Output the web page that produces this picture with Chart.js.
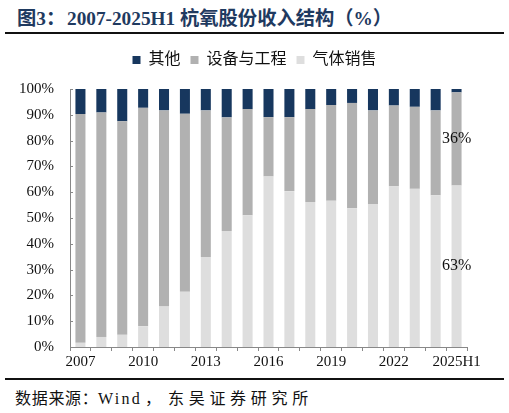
<!DOCTYPE html>
<html lang="zh">
<head>
  <meta charset="UTF-8">
  <title>杭氧股份收入结构</title>
  <script src="https://cdn.jsdelivr.net/npm/chart.js"></script>
  <style>
    body { margin: 0; width: 509px; height: 413px; background: #fff; position: relative; overflow: hidden; }
    .title { position: absolute; left: 17px; top: 3px; font: bold 19.3px "Liberation Serif", "Noto Sans CJK SC", serif; color: #1f3a60; white-space: nowrap; }
    .rule-top { position: absolute; left: 5px; width: 499px; top: 32px; height: 2px; background: #111; }
    .rule-bottom { position: absolute; left: 5px; width: 499px; top: 378px; height: 2px; background: #111; }
    .source { position: absolute; left: 15px; top: 385px; font: 16px "Liberation Serif", "Noto Sans CJK SC", serif; color: #111; white-space: nowrap; }
    .title span, .source span { display: inline-block; }
    .chart-box { position: absolute; left: 0; top: 42px; width: 509px; height: 331px; }
  </style>
</head>
<body>
  <div class="title"><span style="width:50px">图3：</span><span>2007-2025H1 杭氧股份收入结构（%）</span></div>
  <div class="rule-top"></div>
  <div class="chart-box"><canvas id="incomeChart"></canvas></div>
  <div class="rule-bottom"></div>
  <div class="source"><span style="width:83px; letter-spacing:0.7px">数据来源：</span><span style="width:47px; letter-spacing:2.3px">Wind</span><span style="width:23px">，</span><span style="letter-spacing:4.7px">东吴证券研究所</span></div>

  <script>
    // 年份
    const years = ['2007', '2008', '2009', '2010', '2011', '2012', '2013', '2014', '2015', '2016',
                   '2017', '2018', '2019', '2020', '2021', '2022', '2023', '2024', '2025H1'];
    // 各业务占比（%）
    const gasSales = [1.6, 3.9, 4.7, 8.0, 15.7, 21.4, 34.9, 45.0, 51.1, 66.1,
                      60.4, 56.2, 56.7, 53.8, 55.4, 62.3, 61.3, 58.8, 62.6];
    const equipment = [88.7, 87.0, 82.8, 84.7, 76.0, 69.0, 56.8, 44.0, 41.1, 23.0,
                       28.7, 36.0, 37.1, 40.8, 36.3, 31.3, 31.8, 32.9, 36.1];
    const others = [9.7, 9.1, 12.5, 7.3, 8.3, 9.6, 8.3, 11.0, 7.8, 10.9,
                    10.9, 7.8, 6.2, 5.4, 8.3, 6.4, 6.9, 8.3, 1.3];
    const yTicks = [0, 10, 20, 30, 40, 50, 60, 70, 80, 90, 100];

    const serif = '"Liberation Serif", "Noto Sans CJK SC", serif';

    // 最后一根柱子上的数值标注
    const lastBarLabels = {
      id: 'lastBarLabels',
      afterDatasetsDraw(chart) {
        const ctx = chart.ctx;
        const last = years.length - 1;
        ctx.save();
        ctx.font = '16px ' + serif;
        ctx.fillStyle = '#111';
        ctx.textAlign = 'center';
        ctx.textBaseline = 'middle';
        [0, 1].forEach(di => {
          const bar = chart.getDatasetMeta(di).data[last];
          const v = chart.data.datasets[di].data[last];
          ctx.fillText(Math.round(v) + '%', bar.x, (bar.y + bar.base) / 2);
        });
        ctx.restore();
      }
    };

    // y 轴内侧小刻度
    const innerTicks = {
      id: 'innerTicks',
      afterDatasetsDraw(chart) {
        const y = chart.scales.y;
        const ctx = chart.ctx;
        ctx.save();
        ctx.strokeStyle = '#888';
        ctx.lineWidth = 1;
        yTicks.forEach(t => {
          const py = Math.round(y.getPixelForValue(t)) + 0.5;
          ctx.beginPath();
          ctx.moveTo(y.right, py);
          ctx.lineTo(y.right + 3, py);
          ctx.stroke();
        });
        ctx.restore();
      }
    };

    // 图例下方留白
    const legendGap = {
      id: 'legendGap',
      beforeInit(chart) {
        const fit = chart.legend.fit;
        chart.legend.fit = function () {
          fit.bind(chart.legend)();
          this.height += 11;
        };
      }
    };

    new Chart(document.querySelector('#incomeChart'), {
      type: 'bar',
      data: {
        labels: years,
        datasets: [
          { label: '气体销售', data: gasSales, backgroundColor: '#dedede' },
          { label: '设备与工程', data: equipment, backgroundColor: '#b1b1b1' },
          { label: '其他', data: others, backgroundColor: '#17375e' }
        ]
      },
      options: {
        responsive: true,
        maintainAspectRatio: false,
        animation: false,
        layout: { padding: 0 },
        datasets: { bar: { categoryPercentage: 1, barPercentage: 0.48 } },
        plugins: {
          tooltip: { enabled: false },
          legend: {
            position: 'top',
            reverse: true,
            labels: {
              boxWidth: 8,
              boxHeight: 8,
              padding: 10,
              color: '#111',
              font: { size: 16, family: serif }
            }
          }
        },
        scales: {
          x: {
            stacked: true,
            grid: { drawOnChartArea: false, tickLength: 4, color: '#888', offset: true },
            border: { color: '#888' },
            ticks: {
              autoSkip: false,
              maxRotation: 0,
              color: '#111',
              font: { size: 15, family: serif },
              padding: 2,
              callback: (v, i) => (i % 3 === 0 ? years[i] : '')
            }
          },
          y: {
            stacked: true,
            min: 0,
            max: 100,
            afterFit: s => { s.width = 70; },
            afterBuildTicks: s => { s.ticks = yTicks.map(v => ({ value: v })); },
            grid: { display: false },
            border: { color: '#888' },
            ticks: {
              color: '#111',
              font: { size: 15, family: serif },
              padding: 8,
              callback: v => v + '%'
            }
          },
          // 右侧留白
          spacer: {
            position: 'right',
            display: true,
            afterFit: s => { s.width = 42; },
            grid: { display: false },
            border: { display: false },
            ticks: { display: false }
          }
        }
      },
      plugins: [lastBarLabels, innerTicks, legendGap]
    });
  </script>
</body>
</html>
